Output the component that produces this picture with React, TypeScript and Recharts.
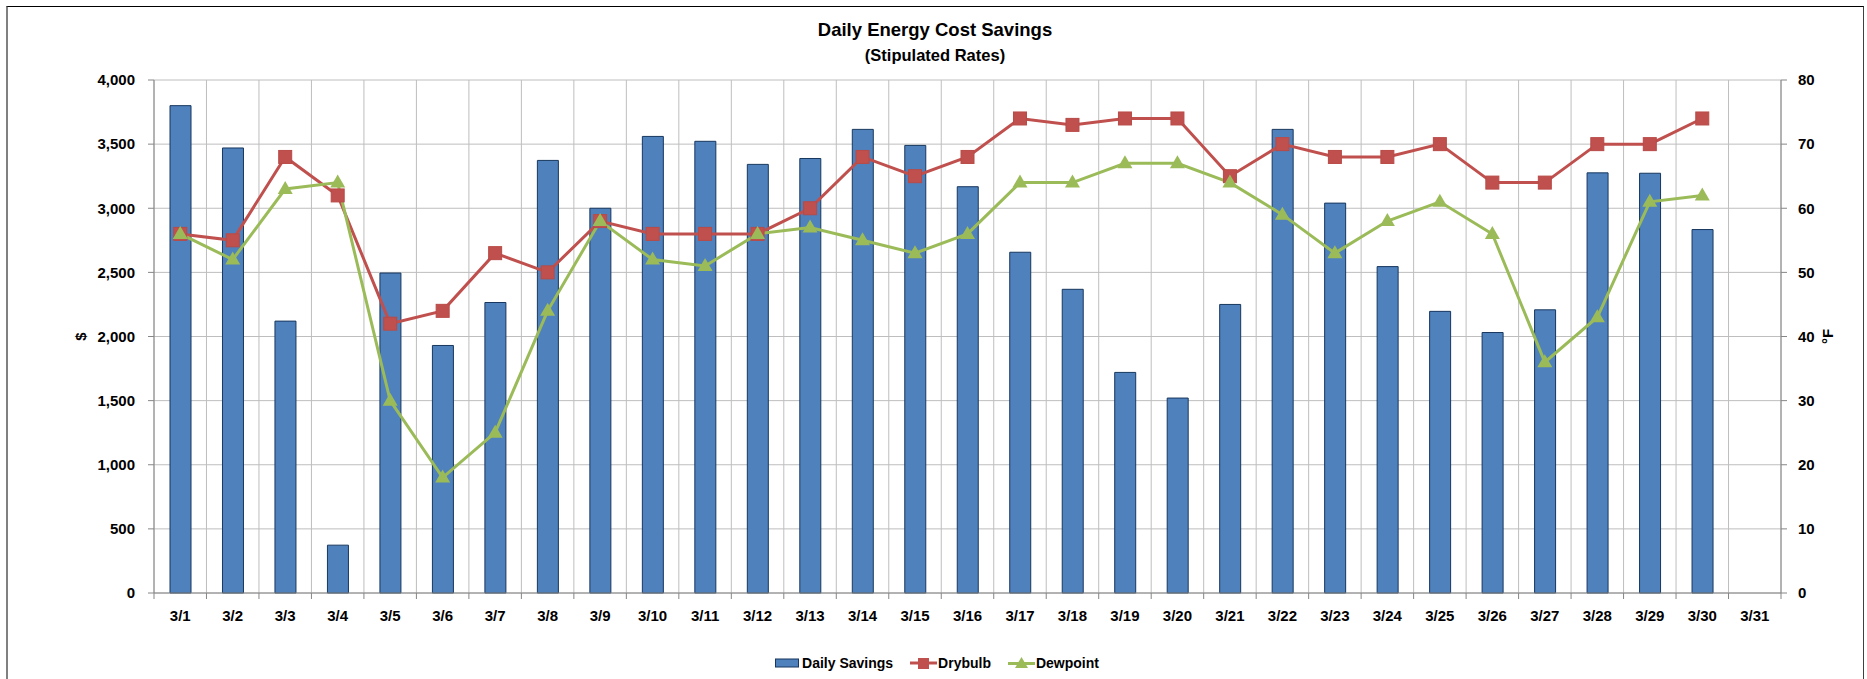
import React from 'react'
import {
  ComposedChart,
  Bar,
  Line,
  XAxis,
  YAxis,
  CartesianGrid,
  Legend,
} from 'recharts'

const days = [
  '3/1', '3/2', '3/3', '3/4', '3/5', '3/6', '3/7', '3/8', '3/9', '3/10',
  '3/11', '3/12', '3/13', '3/14', '3/15', '3/16', '3/17', '3/18', '3/19', '3/20',
  '3/21', '3/22', '3/23', '3/24', '3/25', '3/26', '3/27', '3/28', '3/29', '3/30',
  '3/31',
]

const dailySavings = [
  3800, 3470, 2120, 373, 2495, 1930, 2265, 3373, 3000, 3560,
  3522, 3342, 3388, 3615, 3490, 3168, 2657, 2368, 1720, 1520,
  2250, 3615, 3040, 2545, 2196, 2031, 2208, 3276, 3273, 2834,
  null,
]

const drybulb = [
  56, 55, 68, 62, 42, 44, 53, 50, 58, 56,
  56, 56, 60, 68, 65, 68, 74, 73, 74, 74,
  65, 70, 68, 68, 70, 64, 64, 70, 70, 74,
  null,
]

const dewpoint = [
  56, 52, 63, 64, 30, 18, 25, 44, 58, 52,
  51, 56, 57, 55, 53, 56, 64, 64, 67, 67,
  64, 59, 53, 58, 61, 56, 36, 43, 61, 62,
  null,
]

const dollarTicks = [0, 500, 1000, 1500, 2000, 2500, 3000, 3500, 4000]
const tempTicks = [0, 10, 20, 30, 40, 50, 60, 70, 80]

const data = days.map((day, i) => ({
  day,
  savings: dailySavings[i],
  drybulb: drybulb[i],
  dewpoint: dewpoint[i],
}))

const FONT = '"Liberation Sans", Arial, sans-serif'
const AXIS_GRAY = '#868686'
const BLUE = '#4F81BD'
const BLUE_EDGE = '#17375E'
const RED = '#C0504D'
const GREEN = '#9BBB59'

const XTick = (props: any) => {
  const { x, y, payload, index, visibleTicksCount } = props
  const half = payload.offset ?? 26
  const isLast = visibleTicksCount ? index === visibleTicksCount - 1 : payload.value === days[days.length - 1]
  return (
    <g>
      <line x1={x - half} x2={x - half} y1={y} y2={y + 6} stroke={AXIS_GRAY} />
      {isLast && <line x1={x + half} x2={x + half} y1={y} y2={y + 6} stroke={AXIS_GRAY} />}
      <text
        x={x}
        y={y + 22}
        textAnchor="middle"
        dominantBaseline="central"
        fill="#000"
        fontSize={15}
        fontWeight="bold"
        fontFamily={FONT}
      >
        {payload.value}
      </text>
    </g>
  )
}

const SquareDot = (props: any) => {
  const { cx, cy, index } = props
  if (cy == null || cx == null) return <g key={`sq-${index}`} />
  return (
    <rect
      key={`sq-${index}`}
      x={cx - 6.5}
      y={cy - 6.5}
      width={13}
      height={13}
      fill={RED}
      stroke="#B84A47"
      strokeWidth={1}
    />
  )
}

const TriangleDot = (props: any) => {
  const { cx, cy, index } = props
  if (cy == null || cx == null) return <g key={`tr-${index}`} />
  return (
    <polygon
      key={`tr-${index}`}
      points={`${cx},${cy - 8} ${cx + 7.5},${cy + 5} ${cx - 7.5},${cy + 5}`}
      fill={GREEN}
    />
  )
}

const LegendBox = () => (
  <div
    style={{
      height: 32,
      display: 'flex',
      justifyContent: 'center',
      alignItems: 'center',
      paddingLeft: 7,
      boxSizing: 'border-box',
      fontFamily: FONT,
      fontWeight: 'bold',
      fontSize: 14,
      color: '#000',
    }}
  >
    <svg width={24} height={10} style={{ marginRight: 3 }}>
      <rect x={0.5} y={1} width={23} height={8} fill={BLUE} stroke={BLUE_EDGE} />
    </svg>
    <span style={{ marginRight: 17 }}>Daily Savings</span>
    <svg width={27} height={14} style={{ marginRight: 1 }}>
      <line x1={0} x2={27} y1={7} y2={7} stroke={RED} strokeWidth={3} />
      <rect x={8} y={2} width={11} height={11} fill={RED} />
    </svg>
    <span style={{ marginRight: 17 }}>Drybulb</span>
    <svg width={27} height={14} style={{ marginRight: 1 }}>
      <line x1={0} x2={27} y1={7.5} y2={7.5} stroke={GREEN} strokeWidth={3} />
      <polygon points="13.5,1 20,12 7,12" fill={GREEN} />
    </svg>
    <span>Dewpoint</span>
  </div>
)

export default function App() {
  return (
    <div style={{ position: 'absolute', left: 0, top: 0, width: 1867, height: 679, background: '#fff', overflow: 'hidden' }}>
      <div
        style={{
          position: 'absolute',
          left: 6,
          top: 6,
          width: 1858,
          height: 720,
          boxSizing: 'border-box',
          borderTop: '1px solid #000',
          borderLeft: '2px solid #808080',
          borderRight: '1px solid #404040',
        }}
      />
      <div
        style={{
          position: 'absolute',
          left: 6,
          width: 1858,
          top: 18,
          textAlign: 'center',
          fontFamily: FONT,
          fontWeight: 'bold',
          fontSize: 18.5,
          lineHeight: '24px',
          color: '#000',
        }}
      >
        Daily Energy Cost Savings
      </div>
      <div
        style={{
          position: 'absolute',
          left: 6,
          width: 1858,
          top: 44,
          textAlign: 'center',
          fontFamily: FONT,
          fontWeight: 'bold',
          fontSize: 16.5,
          lineHeight: '22px',
          color: '#000',
        }}
      >
        (Stipulated Rates)
      </div>
      <div style={{ position: 'absolute', left: 0, top: 0 }}>
        <ComposedChart
          width={1867}
          height={679}
          data={data}
          margin={{ top: 80, right: 0, left: 0, bottom: 0 }}
          barCategoryGap="30%"
        >
          <CartesianGrid
            yAxisId="left"
            stroke="#BEBEBE"
            verticalCoordinatesGenerator={({ offset }: any) =>
              Array.from({ length: days.length + 1 }, (_, i) => offset.left + (i * offset.width) / days.length)
            }
          />
          <XAxis
            dataKey="day"
            height={54}
            interval={0}
            tickLine={false}
            tickSize={0}
            tickMargin={0}
            axisLine={{ stroke: AXIS_GRAY }}
            tick={<XTick />}
          />
          <YAxis
            yAxisId="left"
            orientation="left"
            width={154}
            domain={[0, 4000]}
            ticks={dollarTicks}
            interval={0}
            tickFormatter={(v) => Number(v).toLocaleString('en-US')}
            tick={{ fill: '#000', fontSize: 15, fontWeight: 'bold', fontFamily: FONT }}
            tickSize={6}
            tickMargin={13}
            axisLine={{ stroke: AXIS_GRAY }}
            tickLine={{ stroke: AXIS_GRAY }}
            label={({ viewBox }: any) => {
              const cx = viewBox.x + 80
              const cy = viewBox.y + viewBox.height / 2
              return (
                <text
                  x={cx}
                  y={cy}
                  transform={`rotate(-90 ${cx} ${cy})`}
                  textAnchor="middle"
                  dominantBaseline="central"
                  fontFamily={FONT}
                  fontWeight="bold"
                  fontSize={15}
                  fill="#000"
                >
                  $
                </text>
              )
            }}
          />
          <YAxis
            yAxisId="right"
            orientation="right"
            width={86}
            domain={[0, 80]}
            ticks={tempTicks}
            interval={0}
            tick={{ fill: '#000', fontSize: 15, fontWeight: 'bold', fontFamily: FONT }}
            tickSize={6}
            tickMargin={11}
            axisLine={{ stroke: AXIS_GRAY }}
            tickLine={{ stroke: AXIS_GRAY }}
            label={({ viewBox }: any) => {
              const cx = viewBox.x + 46
              const cy = viewBox.y + viewBox.height / 2
              return (
                <text
                  x={cx}
                  y={cy}
                  transform={`rotate(-90 ${cx} ${cy})`}
                  textAnchor="middle"
                  dominantBaseline="central"
                  fontFamily={FONT}
                  fontWeight="bold"
                  fontSize={15}
                  fill="#000"
                >
                  °F
                </text>
              )
            }}
          />
          <Legend verticalAlign="bottom" height={32} content={() => <LegendBox />} />
          <Bar
            yAxisId="left"
            dataKey="savings"
            name="Daily Savings"
            fill={BLUE}
            stroke={BLUE_EDGE}
            strokeWidth={1}
            barSize={21}
            isAnimationActive={false}
          />
          <Line
            yAxisId="right"
            type="linear"
            dataKey="drybulb"
            name="Drybulb"
            stroke={RED}
            strokeWidth={3}
            dot={SquareDot}
            activeDot={false}
            isAnimationActive={false}
          />
          <Line
            yAxisId="right"
            type="linear"
            dataKey="dewpoint"
            name="Dewpoint"
            stroke={GREEN}
            strokeWidth={3}
            dot={TriangleDot}
            activeDot={false}
            isAnimationActive={false}
          />
        </ComposedChart>
      </div>
    </div>
  )
}
